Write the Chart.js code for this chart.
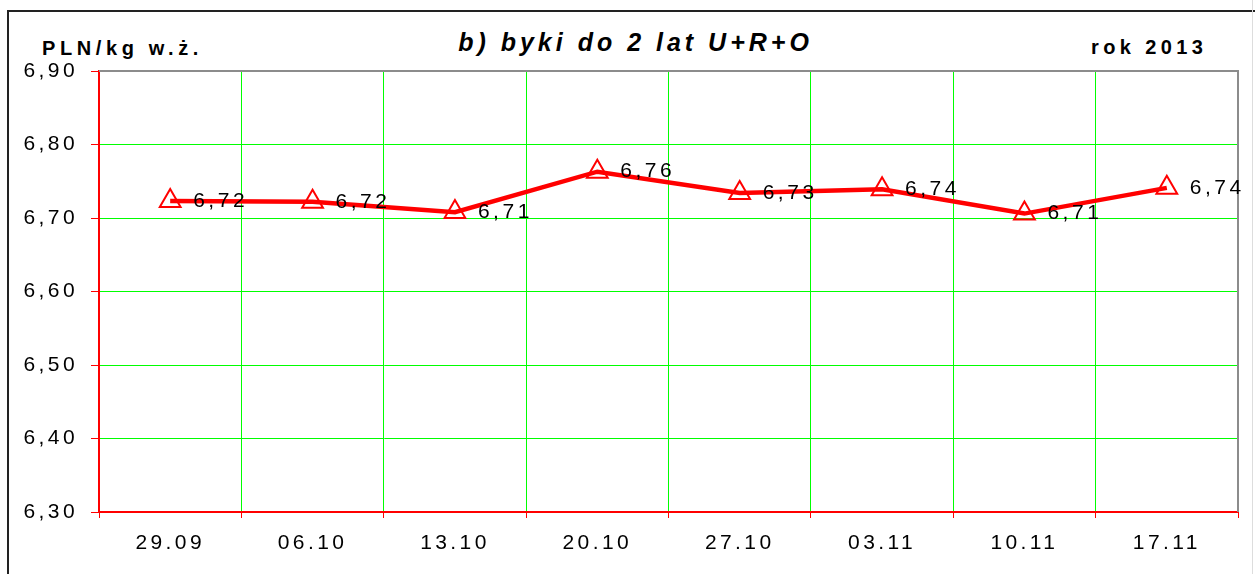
<!DOCTYPE html>
<html>
<head>
<meta charset="utf-8">
<script src="https://cdn.jsdelivr.net/npm/chart.js@4/dist/chart.umd.min.js"></script>
<style>
  html, body { margin: 0; padding: 0; background: #fff; }
  body { width: 1255px; height: 574px; position: relative; overflow: hidden;
         font-family: "Liberation Sans", Arial, sans-serif; }
  #frame { position: absolute; left: 7px; top: 10px; width: 1300px; height: 700px;
           border-left: 2px solid #222; border-top: 2px solid #222; }
  #edge { position: absolute; left: 1252px; top: 0; width: 1px; height: 574px; background: #ddd; }
  .hdr { position: absolute; font-weight: bold; color: #000; white-space: nowrap; }
  #unit { left: 42px; top: 37px; font-size: 20px; letter-spacing: 4.6px; }
  #title { left: 0; width: 1255px; text-align: center; top: 28px; font-size: 25px;
           font-style: italic; letter-spacing: 4px; padding-left: 16px; box-sizing: border-box; }
  #year { left: 1091px; top: 36px; font-size: 20px; letter-spacing: 4.4px; }
  #chartWrap { position: absolute; left: 0; top: 0; width: 1255px; height: 574px; }
</style>
</head>
<body>
<div id="frame"></div>
<div id="edge"></div>
<div class="hdr" id="unit">PLN/kg w.ż.</div>
<div class="hdr" id="title">b) byki do 2 lat U+R+O</div>
<div class="hdr" id="year">rok 2013</div>
<div id="chartWrap"><canvas id="chart" width="1255" height="574"></canvas></div>
<script>
const weeks = ["29.09", "06.10", "13.10", "20.10", "27.10", "03.11", "10.11", "17.11"];
const prices = [6.723, 6.722, 6.708, 6.763, 6.734, 6.739, 6.706, 6.741];
const yMin = 6.3;
const yMax = 6.9;
const yStep = 0.1;

const fmt = (v) => v.toFixed(2).replace(".", ",");
const FONT = '"Liberation Sans", Arial, sans-serif';

// letter spacing for axis text, plot frame and the value labels
const spacing = {
  id: "spacing",
  beforeDraw(chart) {
    chart.ctx.letterSpacing = "3.4px";
  },
  beforeDatasetsDraw(chart) {
    const { ctx, chartArea: a } = chart;
    ctx.save();
    ctx.lineWidth = 2;
    ctx.strokeStyle = "#8c8c8c";
    ctx.beginPath();
    ctx.moveTo(a.left, a.top);
    ctx.lineTo(a.right, a.top);
    ctx.lineTo(a.right, a.bottom);
    ctx.stroke();
    ctx.restore();
  },
  afterDatasetsDraw(chart) {
    const { ctx } = chart;
    const meta = chart.getDatasetMeta(0);
    ctx.save();
    ctx.letterSpacing = "3.5px";
    ctx.font = "21px " + FONT;
    ctx.fillStyle = "#000";
    ctx.textAlign = "left";
    ctx.textBaseline = "middle";
    meta.data.forEach((pt, i) => {
      ctx.fillText(fmt(prices[i]), pt.x + 23, pt.y);
    });
    ctx.restore();
  },
};

new Chart(document.getElementById("chart").getContext("2d"), {
  type: "line",
  data: {
    labels: weeks,
    datasets: [
      {
        data: prices,
        borderColor: "#ff0000",
        borderWidth: 4.5,
        tension: 0,
        pointStyle: "triangle",
        pointRadius: 12,
        pointBorderWidth: 2,
        pointBorderColor: "#ff0000",
        pointBackgroundColor: "rgba(0,0,0,0)",
      },
    ],
  },
  options: {
    responsive: false,
    animation: false,
    layout: { padding: { top: 71, right: 17, left: 0, bottom: 0 } },
    plugins: { legend: { display: false }, tooltip: { enabled: false } },
    scales: {
      x: {
        offset: true,
        grid: { offset: true, color: "#00ff00", lineWidth: 1, tickColor: "#ff0000", tickLength: 6 },
        border: { color: "#ff0000", width: 2 },
        ticks: { color: "#000", font: { size: 21, family: FONT }, padding: 13, autoSkip: false, maxRotation: 0 },
        afterFit(scale) { scale.height = 62; },
      },
      y: {
        min: yMin,
        max: yMax,
        grid: { color: "#00ff00", lineWidth: 1, tickColor: "#ff0000", tickLength: 8 },
        border: { color: "#ff0000", width: 2 },
        ticks: {
          stepSize: yStep,
          color: "#000",
          font: { size: 21, family: FONT },
          padding: 13,
          callback: (v) => fmt(v),
        },
        afterFit(scale) { scale.width = 99; },
      },
    },
  },
  plugins: [spacing],
});
</script>
</body>
</html>
